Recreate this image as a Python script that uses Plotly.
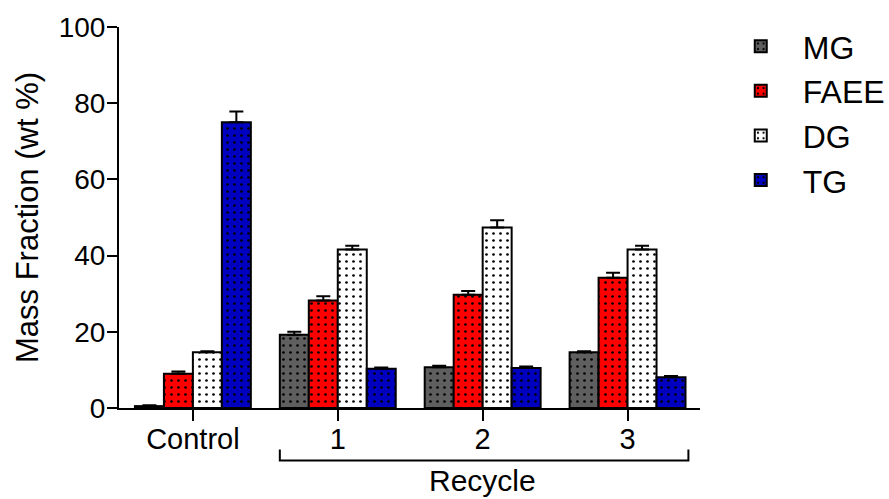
import plotly.graph_objects as go

categories = ["Control", "1", "2", "3"]
series_names = ["MG", "FAEE", "DG", "TG"]
mg = [0.5, 19.2, 10.7, 14.6]
mg_err = [0.2, 0.8, 0.4, 0.3]
faee = [9.0, 28.2, 29.7, 34.2]
faee_err = [0.6, 1.1, 1.0, 1.3]
dg = [14.6, 41.6, 47.4, 41.6]
dg_err = [0.3, 1.0, 1.9, 1.0]
tg = [75.0, 10.3, 10.5, 8.1]
tg_err = [2.8, 0.3, 0.4, 0.3]

colors = ["#5f5f5f", "#ff0000", "#ffffff", "#0000c0"]
values = [mg, faee, dg, tg]
errors = [mg_err, faee_err, dg_err, tg_err]

FONT = "Arial, Liberation Sans, sans-serif"

fig = go.Figure()
for name, vals, errs, col in zip(series_names, values, errors, colors):
    fig.add_trace(go.Bar(
        x=categories, y=vals, name=name, legendgroup=name,
        marker=dict(
            color=col,
            line=dict(color="black", width=2),
            pattern=dict(shape=".", size=7, solidity=0.12,
                         fgcolor="black", bgcolor=col, fillmode="replace"),
        ),
        error_y=dict(type="data", array=errs, arrayminus=[0] * len(errs),
                     symmetric=False, color="black", thickness=2, width=7),
    ))

fig.update_layout(
    width=889, height=499,
    margin=dict(l=119, r=189, t=23, b=91),
    paper_bgcolor="white", plot_bgcolor="white",
    barmode="group", bargap=0.2, bargroupgap=0,
    font=dict(family=FONT, color="black"),
    legend=dict(x=0.8085, y=0.962, xref="container", yref="container",
                xanchor="left", yanchor="top",
                font=dict(size=32, family=FONT), tracegroupgap=0,
                itemwidth=74),
    xaxis=dict(type="category", range=[-0.51, 3.5], showline=True,
               linecolor="black", linewidth=2, ticks="outside", ticklen=11,
               tickwidth=2, tickcolor="black", tickfont=dict(size=29),
               ticklabelstandoff=-7,
               showgrid=False, zeroline=False),
    yaxis=dict(range=[0, 100], tickvals=[0, 20, 40, 60, 80, 100],
               showline=True, linecolor="black", linewidth=2,
               ticks="outside", ticklen=10, tickwidth=2, tickcolor="black",
               tickfont=dict(size=28), ticklabelstandoff=-4,
               showgrid=False, zeroline=False,
               title=dict(text="Mass Fraction (wt %)", font=dict(size=31),
                          standoff=11)),
    shapes=[dict(type="path", xref="x", yref="paper",
                 path="M 0.6 -0.109 L 0.6 -0.138 L 3.42 -0.138 L 3.42 -0.109",
                 line=dict(color="black", width=2))],
    annotations=[dict(text="Recycle", x=2, y=-0.19, xref="x", yref="paper",
                      showarrow=False, font=dict(size=30),
                      xanchor="center", yanchor="middle")],
)

fig.write_html("out.html")
